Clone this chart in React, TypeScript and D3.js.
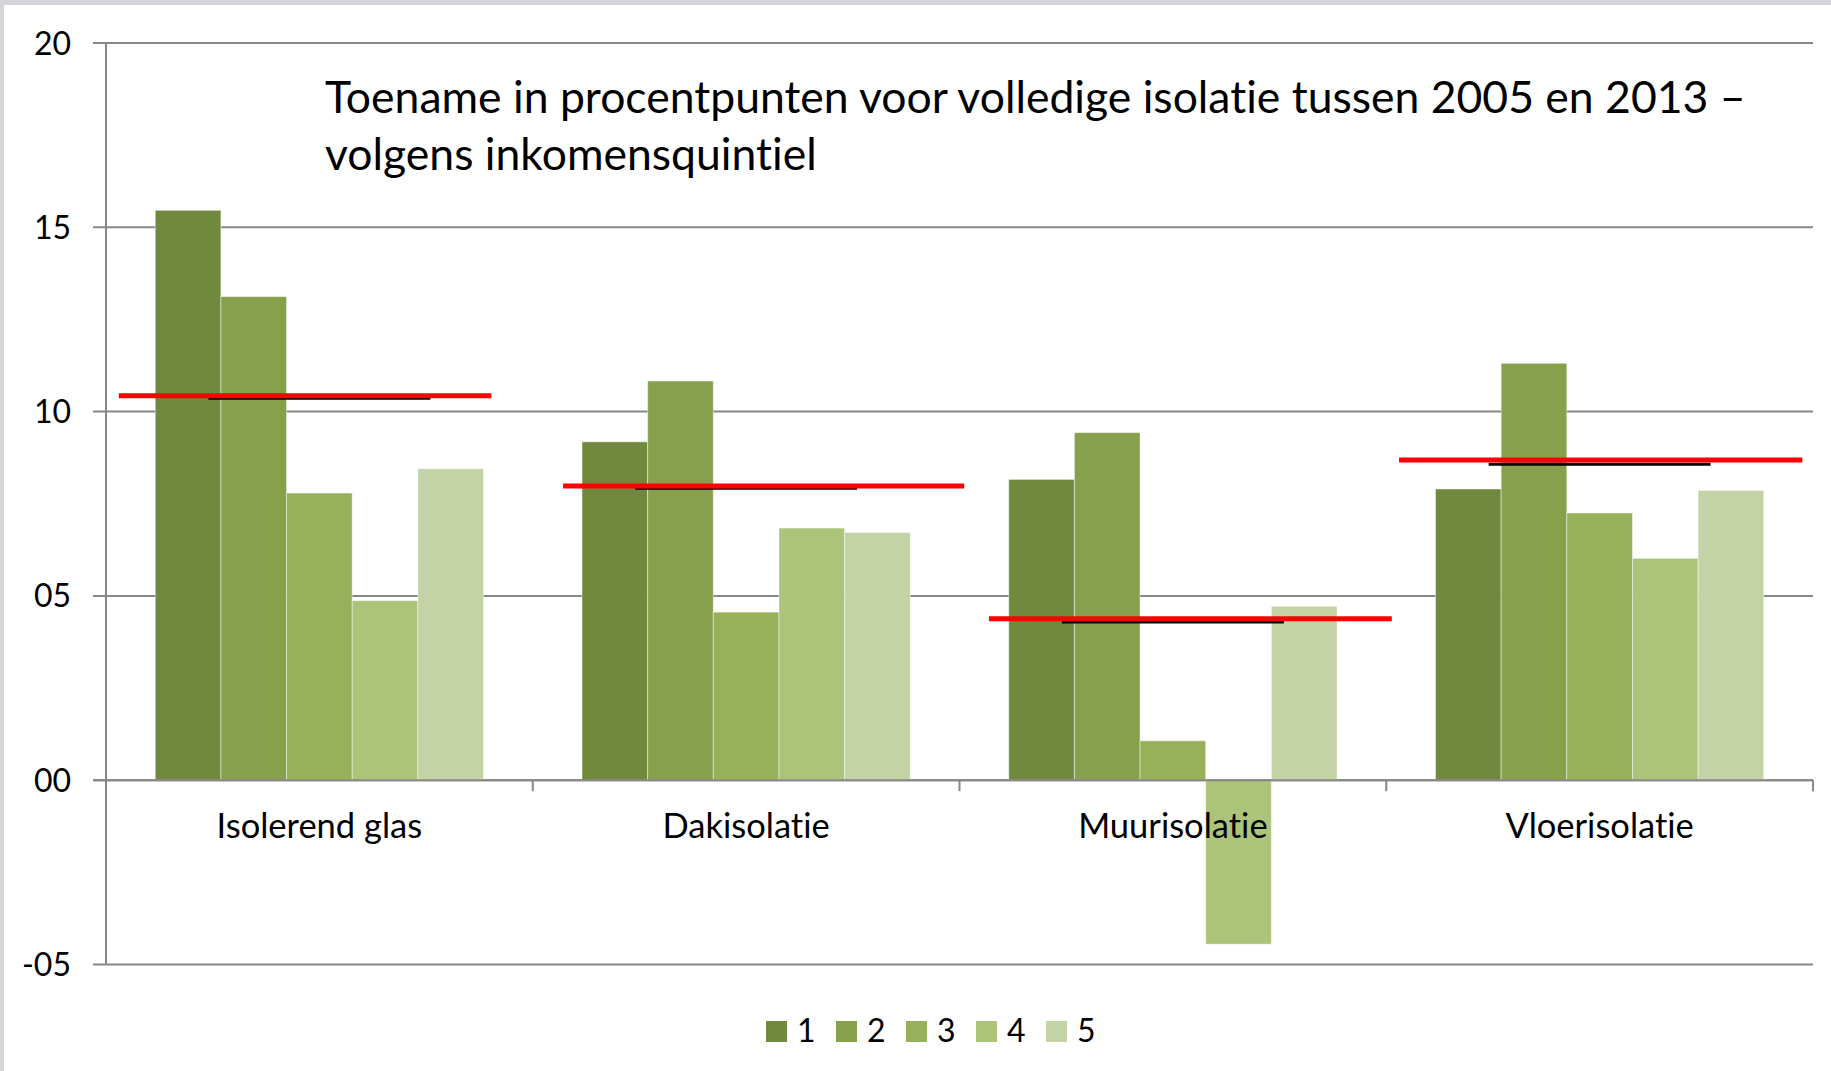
import React, { useEffect } from "react";
import * as d3 from "d3";

const categories = ["Isolerend glas", "Dakisolatie", "Muurisolatie", "Vloerisolatie"];
const seriesNames = ["1", "2", "3", "4", "5"];
const q1 = [15.46, 9.18, 8.16, 7.9];
const q2 = [13.12, 10.83, 9.43, 11.31];
const q3 = [7.79, 4.56, 1.07, 7.25];
const q4 = [4.87, 6.84, -4.45, 6.02];
const q5 = [8.45, 6.72, 4.72, 7.86];
const redLineValues = [10.43, 7.98, 4.38, 8.69];
const blackLineValues = [10.36, 7.92, 4.29, 8.57];
const yTickValues = [-5, 0, 5, 10, 15, 20];
const yTickLabels = ["-05", "00", "05", "10", "15", "20"];
const titleLines = [
  "Toename in procentpunten voor volledige isolatie tussen 2005 en 2013 –",
  "volgens inkomensquintiel",
];

const colors = ["#71893F", "#87A04C", "#96B158", "#ABC47A", "#C3D3A5"];
// red reference lines: start / end as fraction of each category band
const redSpanStart = [0.03, 0.071, 0.069, 0.03];
const redSpanEnd = [0.903, 1.011, 1.013, 0.975];

const W = 1831;
const H = 1071;
const FONT = "Lato, 'Open Sans', sans-serif";
const textStyle = {
  fontVariantLigatures: "none",
  fontFeatureSettings: '"liga" 0, "clig" 0, "dlig" 0, "calt" 0',
} as React.CSSProperties;

export default function App() {
  useEffect(() => {
    document.body.style.margin = "0";
  }, []);

  const series = [q1, q2, q3, q4, q5];
  const x = d3.scaleBand<string>().domain(categories).range([106, 1813]).paddingInner(0).paddingOuter(0);
  const xInner = d3.scaleBand<string>().domain(seriesNames).range([0, x.bandwidth()]).paddingInner(0).paddingOuter(0.75);
  const y = d3.scaleLinear().domain([-5, 20]).range([964.5, 43]);
  const gridColor = "#878787";

  return (
    <svg
      width={W}
      height={H}
      style={{ position: "absolute", left: 0, top: 0, display: "block", ...textStyle }}
      fontFamily={FONT}
    >
      <rect x={0} y={0} width={W} height={H} fill="#ffffff" />
      <rect x={0} y={0} width={W} height={5} fill="#D4D5D8" />
      <rect x={0} y={0} width={4} height={H} fill="#D4D5D8" />

      {/* gridlines */}
      {yTickValues.map((v) => (
        <line key={"g" + v} x1={93} x2={1813} y1={y(v)} y2={y(v)} stroke={gridColor} strokeWidth={2} />
      ))}

      {/* bars */}
      {categories.map((c, ci) => (
        <g key={c} transform={`translate(${x(c)},0)`}>
          {series.map((s, si) => {
            const v = s[ci];
            const y0 = y(0);
            const yv = y(v);
            return (
              <rect
                key={si}
                x={xInner(seriesNames[si])}
                y={Math.min(y0, yv)}
                width={xInner.bandwidth()}
                height={Math.abs(yv - y0)}
                fill={colors[si]}
                stroke="rgba(255,255,255,0.45)"
                strokeWidth={1}
              />
            );
          })}
        </g>
      ))}

      {/* axes */}
      <line x1={106} x2={106} y1={y(20)} y2={y(-5)} stroke={gridColor} strokeWidth={2} />
      <line x1={93} x2={1813} y1={y(0)} y2={y(0)} stroke={gridColor} strokeWidth={2} />
      {categories.map((c) => (
        <line key={"t" + c} x1={(x(c) as number) + x.bandwidth()} x2={(x(c) as number) + x.bandwidth()} y1={y(0)} y2={y(0) + 11} stroke={gridColor} strokeWidth={2} />
      ))}

      {/* y tick labels */}
      {yTickValues.map((v, i) => (
        <text key={"yl" + v} x={71} y={y(v)} dy="0.36em" textAnchor="end" fontSize={32} fill="#000" style={textStyle}>
          {yTickLabels[i]}
        </text>
      ))}

      {/* category labels */}
      {categories.map((c) => (
        <text key={"cl" + c} x={(x(c) as number) + x.bandwidth() / 2} y={838} textAnchor="middle" fontSize={34.5} fill="#000" style={textStyle}>
          {c}
        </text>
      ))}

      {/* black and red reference lines */}
      {categories.map((c, ci) => {
        const cx = (x(c) as number) + x.bandwidth() / 2;
        const hw = x.bandwidth() * 0.26;
        return (
          <line key={"bk" + c} x1={cx - hw} x2={cx + hw} y1={y(blackLineValues[ci])} y2={y(blackLineValues[ci])} stroke="#000" strokeWidth={3} />
        );
      })}
      {categories.map((c, ci) => {
        const bx = x(c) as number;
        const bw = x.bandwidth();
        return (
          <line key={"rd" + c} x1={bx + redSpanStart[ci] * bw} x2={bx + redSpanEnd[ci] * bw} y1={y(redLineValues[ci])} y2={y(redLineValues[ci])} stroke="#FF0000" strokeWidth={5} />
        );
      })}

      {/* title */}
      {titleLines.map((t, i) => (
        <text key={"ti" + i} x={325} y={113 + i * 57} fontSize={44.5} fill="#000" style={textStyle}>
          {t}
        </text>
      ))}

      {/* legend */}
      {seriesNames.map((n, i) => (
        <g key={"lg" + n} transform={`translate(${766 + i * 70},1021)`}>
          <rect x={0} y={0} width={21} height={21} fill={colors[i]} />
          <text x={31} y={21} fontSize={32} fill="#000" style={textStyle}>
            {n}
          </text>
        </g>
      ))}
    </svg>
  );
}
